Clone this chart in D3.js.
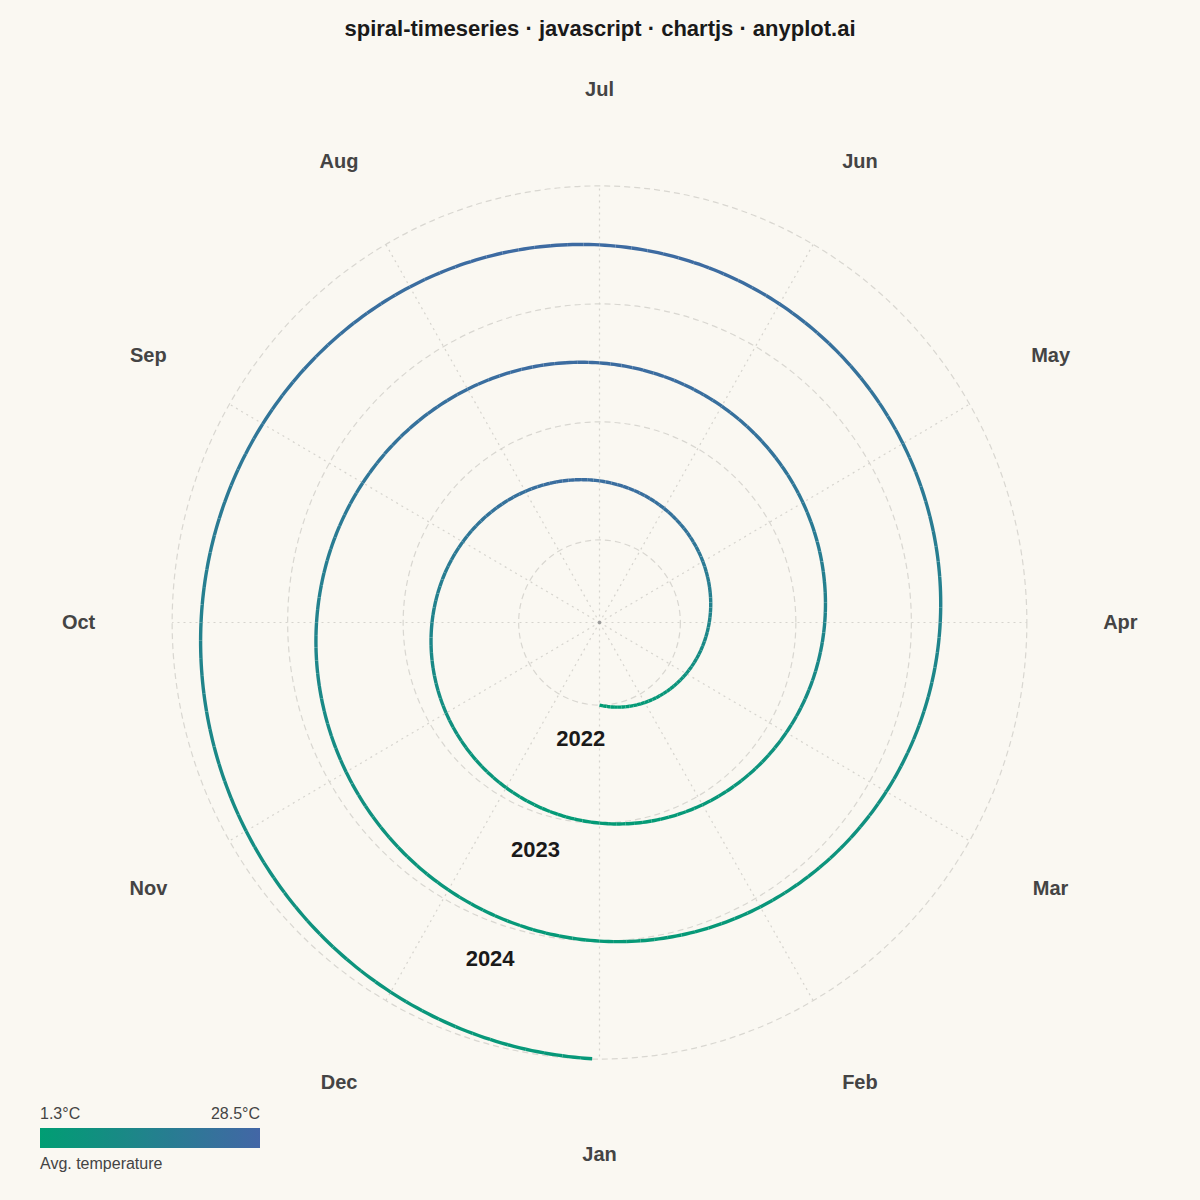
<!DOCTYPE html>
<html>
<head>
<meta charset="utf-8">
<script src="https://cdn.jsdelivr.net/npm/d3@7"></script>
<style>
  html, body { margin: 0; padding: 0; background: #FAF8F2; }
  svg { display: block; font-family: "Liberation Sans", Arial, sans-serif; }
</style>
</head>
<body>
<svg id="chart" width="1200" height="1200"></svg>
<script>
// ---------------- data ----------------
const months = ["Jan","Feb","Mar","Apr","May","Jun","Jul","Aug","Sep","Oct","Nov","Dec"];
const years = [2022, 2023, 2024];
const temps2022 = [2.4, 5.1, 10.6, 16.4, 21.7, 24.6, 25.0, 22.3, 17.1, 11.2, 6.0, 3.2];
const temps2023 = [2.9, 5.7, 11.2, 17.0, 22.3, 25.3, 25.6, 22.9, 17.8, 11.8, 6.6, 3.8];
const temps2024 = [3.5, 6.3, 11.8, 17.7, 23.0, 26.0, 26.3, 23.6, 18.4, 12.5, 7.2, 4.3];
const tempRange = [1.3, 28.5];
const legendLabels = ["1.3°C", "28.5°C"];
const legendTitle = "Avg. temperature";
const title = "spiral-timeseries · javascript · chartjs · anyplot.ai";

// ---------------- layout ----------------
const W = 1200, H = 1200;
const cx = 599.5, cy = 622.5;
const unitY = 118, unitX = 115.5;
const colLow = "#009E73", colHigh = "#4366A6";

const svg = d3.select("#chart");
svg.append("rect").attr("width", W).attr("height", H).attr("fill", "#FAF8F2");

const xScale = d3.scaleLinear().domain([-1, 1]).range([cx - unitX, cx + unitX]);
const yScale = d3.scaleLinear().domain([-1, 1]).range([cy + unitY, cy - unitY]);
// time (years since Jan 2022) -> radius (units)
const rScale = d3.scaleLinear().domain([0, years.length]).range([0.7, 0.7 + years.length]);
const colorScale = d3.scaleLinear().domain(tempRange).range([colLow, colHigh]).interpolate(d3.interpolateRgb);

function pos(r, theta) {
  // theta measured counterclockwise from bottom (Jan)
  return [xScale(r * Math.sin(theta)), yScale(-r * Math.cos(theta))];
}

const temps = [].concat(temps2022, temps2023, temps2024);
const nMonths = temps.length;

// grid circles at year starts
const gridG = svg.append("g");
const circleRadii = d3.range(years.length + 1).map(i => rScale(i));
const outerR = rScale(years.length);
circleRadii.forEach(r => {
  gridG.append("ellipse")
    .attr("cx", cx).attr("cy", cy)
    .attr("rx", xScale(r) - cx).attr("ry", cy - yScale(r))
    .attr("fill", "none").attr("stroke", "#d9d7d1").attr("stroke-width", 1.2)
    .attr("stroke-dasharray", "6 4");
});
// spokes
months.forEach((m, i) => {
  const th = i / 12 * 2 * Math.PI;
  const [x2, y2] = pos(outerR, th);
  gridG.append("line")
    .attr("x1", cx).attr("y1", cy).attr("x2", x2).attr("y2", y2)
    .attr("stroke", "#d6d4ce").attr("stroke-width", 1.2)
    .attr("stroke-dasharray", "2 4");
});
gridG.append("circle").attr("cx", cx).attr("cy", cy).attr("r", 1.8).attr("fill", "#999");

// month labels
const labelR = 4.51;
months.forEach((m, i) => {
  const th = i / 12 * 2 * Math.PI;
  const [x, y] = pos(labelR, th);
  svg.append("text").attr("x", x).attr("y", y - 1)
    .attr("text-anchor", "middle").attr("dominant-baseline", "central")
    .attr("font-size", 20).attr("font-weight", "bold").attr("fill", "#444")
    .text(m);
});

// spiral: each month drawn as an arc, colour blended between month mid-points
const spiralG = svg.append("g");
const sub = 12;
const endT = years.length - 1 / 365;
function tempAt(t) {
  const c = t - 0.5;
  if (c < 0) return temps[0];
  if (c >= nMonths - 1) return temps[nMonths - 1];
  const i0 = Math.floor(c), f = c - i0;
  return temps[i0] * (1 - f) + temps[i0 + 1] * f;
}
for (let m = 0; m < nMonths; m++) {
  for (let s = 0; s < sub; s++) {
    const a = m + s / sub, b = m + (s + 1) / sub;
    const tyA = a / 12, tyB = Math.min(b / 12, endT);
    if (tyA >= endT) continue;
    const pts = [];
    const steps = 3;
    for (let k = 0; k <= steps; k++) {
      const ty = tyA + (tyB - tyA) * k / steps;
      pts.push(pos(rScale(ty), ty * 2 * Math.PI));
    }
    spiralG.append("path")
      .attr("d", d3.line()(pts))
      .attr("fill", "none")
      .attr("stroke", colorScale(tempAt((a + b) / 2)))
      .attr("stroke-width", 3.4)
      .attr("stroke-linecap", "butt")
      .attr("stroke-linejoin", "round");
  }
}

// year labels
const yearLabelAngle = [-9.3, -16.1, -18.4];
years.forEach((yv, i) => {
  const th = yearLabelAngle[i] * Math.PI / 180;
  const [x, y] = pos(i + 1.0, th);
  svg.append("text").attr("x", x).attr("y", y)
    .attr("text-anchor", "middle").attr("dominant-baseline", "central")
    .attr("font-size", 22).attr("font-weight", "bold").attr("fill", "#1a1a1a")
    .text(yv);
});

// title
svg.append("text").attr("x", W / 2).attr("y", 36)
  .attr("text-anchor", "middle").attr("font-size", 22).attr("font-weight", "bold")
  .attr("fill", "#1a1a1a").text(title);

// colour legend
const defs = svg.append("defs");
const grad = defs.append("linearGradient").attr("id", "tgrad").attr("x1", "0%").attr("x2", "100%");
d3.range(0, 1.0001, 0.1).forEach(f => {
  grad.append("stop").attr("offset", (f * 100) + "%")
    .attr("stop-color", colorScale(tempRange[0] + f * (tempRange[1] - tempRange[0])));
});
const lg = svg.append("g");
const lx = 40, ly = 1128, lw = 220, lh = 20;
lg.append("rect").attr("x", lx).attr("y", ly).attr("width", lw).attr("height", lh).attr("fill", "url(#tgrad)");
lg.append("text").attr("x", lx).attr("y", ly - 9).attr("font-size", 16).attr("fill", "#444").text(legendLabels[0]);
lg.append("text").attr("x", lx + lw).attr("y", ly - 9).attr("text-anchor", "end").attr("font-size", 16).attr("fill", "#444").text(legendLabels[1]);
lg.append("text").attr("x", lx).attr("y", ly + lh + 21).attr("font-size", 16).attr("fill", "#444").text(legendTitle);
</script>
</body>
</html>
